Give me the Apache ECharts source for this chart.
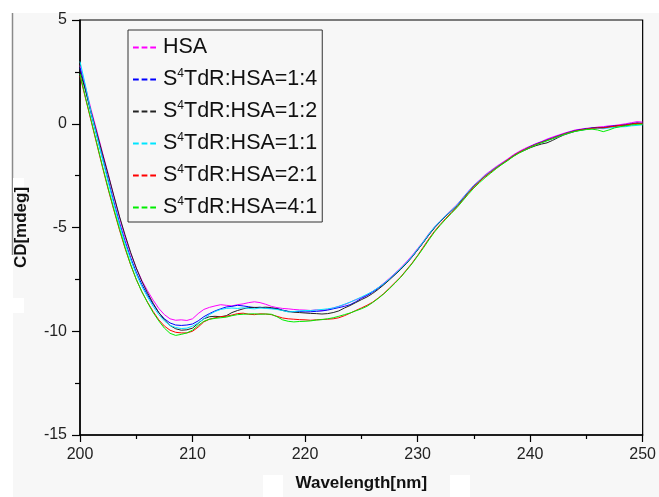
<!DOCTYPE html>
<html>
<head>
<meta charset="utf-8">
<script src="https://cdn.jsdelivr.net/npm/echarts@6/dist/echarts.min.js"></script>
<style>html,body{margin:0;padding:0;background:#fff;}#c{width:659px;height:497px;}</style>
</head>
<body>
<div id="c"></div>
<script>
const wavelengths = [200,200.5,201,201.5,202,202.5,203,203.5,204,204.5,205,205.5,206,206.5,207,207.5,208,208.5,209,209.5,210,210.5,211,211.5,212,212.5,213,213.5,214,214.5,215,215.5,216,216.5,217,217.5,218,218.5,219,219.5,220,220.5,221,221.5,222,222.5,223,223.5,224,224.5,225,225.5,226,226.5,227,227.5,228,228.5,229,229.5,230,230.5,231,231.5,232,232.5,233,233.5,234,234.5,235,235.5,236,236.5,237,237.5,238,238.5,239,239.5,240,240.5,241,241.5,242,242.5,243,243.5,244,244.5,245,245.5,246,246.5,247,247.5,248,248.5,249,249.5,250];

const seriesNames = ['HSA','S⁴TdR:HSA=1:4','S⁴TdR:HSA=1:2','S⁴TdR:HSA=1:1','S⁴TdR:HSA=2:1','S⁴TdR:HSA=4:1'];
const seriesColors = ['#ff00ff','#0000ff','#222222','#00e5ff','#ff0000','#00ee00'];

const hsa = [2.8,1.75,0.65,-0.35,-1.4,-2.4,-3.5,-4.5,-5.45,-6.25,
-6.95,-7.55,-8.05,-8.5,-8.9,-9.2,-9.4,-9.47,-9.45,-9.48,
-9.4,-9.15,-8.95,-8.85,-8.78,-8.72,-8.75,-8.78,-8.72,-8.68,
-8.62,-8.58,-8.62,-8.7,-8.8,-8.86,-8.9,-8.92,-8.95,-8.97,
-8.98,-9.0,-8.97,-9.0,-8.95,-8.88,-8.8,-8.72,-8.6,-8.48,
-8.38,-8.25,-8.08,-7.9,-7.68,-7.45,-7.2,-6.95,-6.66,-6.36,
-6.02,-5.68,-5.3,-4.98,-4.7,-4.42,-4.16,-3.9,-3.58,-3.26,
-2.96,-2.72,-2.46,-2.26,-2.06,-1.88,-1.7,-1.5,-1.34,-1.2,
-1.08,-0.96,-0.86,-0.74,-0.64,-0.55,-0.46,-0.38,-0.3,-0.26,
-0.22,-0.2,-0.16,-0.14,-0.1,-0.08,-0.04,0.0,0.05,0.1,
0.08];

const r1to4 = [2.7,1.6,0.45,-0.6,-1.65,-2.7,-3.75,-4.75,-5.65,-6.45,
-7.15,-7.75,-8.25,-8.7,-9.1,-9.4,-9.6,-9.7,-9.72,-9.7,
-9.65,-9.5,-9.3,-9.15,-9.02,-8.92,-8.83,-8.8,-8.75,-8.78,
-8.82,-8.86,-8.84,-8.88,-8.9,-8.9,-8.98,-9.04,-9.06,-9.05,
-9.07,-9.06,-9.04,-9.02,-8.98,-8.92,-8.86,-8.8,-8.72,-8.58,
-8.42,-8.28,-8.12,-7.93,-7.72,-7.5,-7.25,-7.0,-6.72,-6.42,
-6.08,-5.72,-5.34,-5.0,-4.72,-4.45,-4.2,-3.94,-3.62,-3.3,
-3.0,-2.76,-2.52,-2.3,-2.1,-1.92,-1.74,-1.54,-1.38,-1.24,
-1.1,-0.98,-0.88,-0.78,-0.68,-0.58,-0.49,-0.4,-0.33,-0.28,
-0.24,-0.2,-0.18,-0.18,-0.14,-0.1,-0.08,-0.04,0.0,0.04,
0.02];

const r1to2 = [2.5,1.6,0.55,-0.45,-1.45,-2.45,-3.45,-4.45,-5.35,-6.2,
-6.95,-7.6,-8.15,-8.65,-9.1,-9.45,-9.72,-9.88,-9.95,-9.93,
-9.85,-9.62,-9.4,-9.3,-9.28,-9.3,-9.25,-9.1,-9.0,-8.92,
-8.86,-8.85,-8.86,-8.84,-8.86,-8.92,-9.0,-9.05,-9.08,-9.1,
-9.12,-9.14,-9.15,-9.17,-9.15,-9.1,-9.02,-8.88,-8.76,-8.62,
-8.48,-8.35,-8.18,-7.98,-7.76,-7.52,-7.27,-7.02,-6.74,-6.43,
-6.08,-5.73,-5.36,-5.02,-4.73,-4.46,-4.2,-3.95,-3.63,-3.3,
-3.0,-2.76,-2.52,-2.32,-2.12,-1.94,-1.76,-1.57,-1.4,-1.28,
-1.16,-1.06,-0.98,-0.92,-0.8,-0.66,-0.54,-0.45,-0.36,-0.3,
-0.26,-0.22,-0.2,-0.2,-0.16,-0.12,-0.1,-0.08,-0.02,0.02,
0.0];

const r1to1 = [3.0,1.8,0.5,-0.6,-1.7,-2.8,-3.85,-4.85,-5.75,-6.55,
-7.25,-7.85,-8.35,-8.8,-9.2,-9.5,-9.72,-9.82,-9.87,-9.85,
-9.75,-9.6,-9.4,-9.2,-9.05,-8.95,-8.9,-8.88,-8.9,-8.87,
-8.9,-8.92,-8.88,-8.9,-8.92,-8.95,-9.0,-9.07,-9.05,-9.02,
-9.0,-9.0,-8.98,-8.95,-8.92,-8.88,-8.8,-8.7,-8.6,-8.48,
-8.35,-8.22,-8.08,-7.9,-7.7,-7.48,-7.22,-6.98,-6.7,-6.4,
-6.05,-5.7,-5.32,-4.98,-4.7,-4.43,-4.18,-3.92,-3.6,-3.28,
-2.98,-2.74,-2.5,-2.3,-2.1,-1.92,-1.74,-1.55,-1.38,-1.26,
-1.12,-1.0,-0.92,-0.82,-0.72,-0.62,-0.52,-0.43,-0.36,-0.32,
-0.27,-0.24,-0.22,-0.24,-0.2,-0.18,-0.15,-0.14,-0.1,-0.08,
-0.05];

const r2to1 = [2.3,1.2,0.1,-1.0,-2.1,-3.15,-4.15,-5.1,-6.0,-6.8,
-7.5,-8.1,-8.6,-9.05,-9.45,-9.75,-9.95,-10.05,-10.08,-10.08,
-10.0,-9.8,-9.55,-9.42,-9.35,-9.3,-9.28,-9.22,-9.15,-9.13,
-9.18,-9.2,-9.16,-9.17,-9.2,-9.28,-9.36,-9.4,-9.42,-9.44,
-9.45,-9.47,-9.45,-9.43,-9.42,-9.4,-9.35,-9.25,-9.13,-9.0,
-8.88,-8.75,-8.6,-8.4,-8.18,-7.92,-7.65,-7.38,-7.05,-6.72,
-6.35,-5.95,-5.55,-5.18,-4.86,-4.56,-4.28,-4.0,-3.68,-3.35,
-3.04,-2.78,-2.54,-2.33,-2.12,-1.93,-1.74,-1.55,-1.38,-1.25,
-1.12,-1.0,-0.9,-0.8,-0.7,-0.6,-0.5,-0.42,-0.35,-0.3,
-0.26,-0.22,-0.2,-0.2,-0.16,-0.12,-0.08,-0.06,-0.02,0.02,
0.02];

const r4to1 = [2.4,1.25,0.15,-0.95,-2.05,-3.1,-4.1,-5.05,-5.95,-6.78,
-7.5,-8.1,-8.62,-9.1,-9.5,-9.85,-10.1,-10.2,-10.15,-10.08,
-9.95,-9.72,-9.52,-9.42,-9.38,-9.35,-9.32,-9.25,-9.2,-9.18,
-9.17,-9.16,-9.18,-9.17,-9.18,-9.3,-9.45,-9.52,-9.55,-9.53,
-9.52,-9.5,-9.46,-9.44,-9.4,-9.35,-9.28,-9.2,-9.12,-9.02,
-8.92,-8.8,-8.62,-8.42,-8.2,-7.95,-7.68,-7.4,-7.08,-6.75,
-6.38,-6.0,-5.6,-5.22,-4.9,-4.6,-4.32,-4.04,-3.72,-3.4,
-3.1,-2.84,-2.6,-2.38,-2.16,-1.96,-1.78,-1.58,-1.42,-1.28,
-1.15,-1.03,-0.92,-0.82,-0.72,-0.62,-0.52,-0.44,-0.37,-0.32,
-0.28,-0.26,-0.3,-0.38,-0.3,-0.2,-0.14,-0.1,-0.06,-0.03,
-0.02];

const seriesValues = [hsa, r1to4, r1to2, r1to1, r2to1, r4to1];

const chart = echarts.init(document.getElementById('c'), null, {renderer: 'canvas'});
const FONT = 'Liberation Sans, Arial, sans-serif';
const DASH_ICON = 'path://M0,0h6v2h-6z M9,0h6v2h-6z M18,0h6v2h-6z';

const series = seriesNames.map((name, i) => ({
  name: name,
  type: 'line',
  symbol: 'none',
  smooth: false,
  data: wavelengths.map((w, j) => [w, seriesValues[i][j]]),
  lineStyle: {color: seriesColors[i], width: 1},
  itemStyle: {color: seriesColors[i]},
  animation: false,
  z: 3
}));

chart.setOption({
  backgroundColor: '#ffffff',
  animation: false,
  graphic: [
    {type: 'rect', shape: {x: 13, y: 13, width: 646, height: 484}, style: {fill: '#f7f7f7'}, z: -10, silent: true},
    {type: 'line', shape: {x1: 12.5, y1: 13, x2: 12.5, y2: 255}, style: {stroke: '#8a8a8a', lineWidth: 1.5}, z: -9, silent: true},
    {type: 'rect', shape: {x: 13, y: 178, width: 11, height: 15}, style: {fill: '#ffffff'}, z: -9, silent: true},
    {type: 'rect', shape: {x: 13, y: 298, width: 11, height: 15}, style: {fill: '#ffffff'}, z: -9, silent: true},
    {type: 'rect', shape: {x: 263, y: 475, width: 20, height: 22}, style: {fill: '#ffffff'}, z: -9, silent: true},
    {type: 'rect', shape: {x: 450, y: 475, width: 20, height: 22}, style: {fill: '#ffffff'}, z: -9, silent: true}
  ],
  grid: {left: 80, right: 16, top: 20, bottom: 60, show: true, borderColor: '#000', borderWidth: 1.2, backgroundColor: 'transparent'},
  legend: {
    orient: 'vertical',
    left: 128,
    top: 30,
    data: seriesNames.map(n => ({name: n, icon: DASH_ICON})),
    backgroundColor: '#f7f7f7',
    borderColor: '#333',
    borderWidth: 1,
    padding: [6, 5, 3, 5],
    itemGap: 9,
    itemWidth: 23,
    itemHeight: 14,
    formatter: n => '{gap|}' + n.replace('⁴', '{sup|4}'),
    textStyle: {
      fontFamily: FONT, fontSize: 21.5, color: '#111', lineHeight: 23,
      rich: {
        gap: {width: 2},
        sup: {fontFamily: FONT, fontSize: 12, color: '#111', verticalAlign: 'top', lineHeight: 23, padding: [0, 0, 10, 0]}
      }
    }
  },
  xAxis: {
    type: 'value', min: 200, max: 250, interval: 10,
    name: 'Wavelength[nm]', nameLocation: 'middle', nameGap: 40,
    nameTextStyle: {fontFamily: FONT, fontSize: 17, fontWeight: 'bold', color: '#111'},
    axisLine: {show: true, onZero: false, lineStyle: {color: '#000', width: 1.5}},
    axisTick: {show: true, inside: false, length: 7, lineStyle: {color: '#000', width: 1.2}},
    minorTick: {show: true, splitNumber: 2, length: 4, lineStyle: {color: '#000', width: 1.2}},
    axisLabel: {fontFamily: FONT, fontSize: 16, color: '#222', margin: 12},
    splitLine: {show: false}
  },
  yAxis: {
    type: 'value', min: -15, max: 5, interval: 5,
    name: 'CD[mdeg]', nameLocation: 'middle', nameGap: 50,
    nameTextStyle: {fontFamily: FONT, fontSize: 17, fontWeight: 'bold', color: '#111'},
    axisLine: {show: true, onZero: false, lineStyle: {color: '#000', width: 1.5}},
    axisTick: {show: true, inside: false, length: 8, lineStyle: {color: '#000', width: 1.2}},
    minorTick: {show: true, splitNumber: 2, length: 5, lineStyle: {color: '#000', width: 1.2}},
    axisLabel: {fontFamily: FONT, fontSize: 16, color: '#222', margin: 13},
    splitLine: {show: false}
  },
  series: series
});
</script>
</body>
</html>
